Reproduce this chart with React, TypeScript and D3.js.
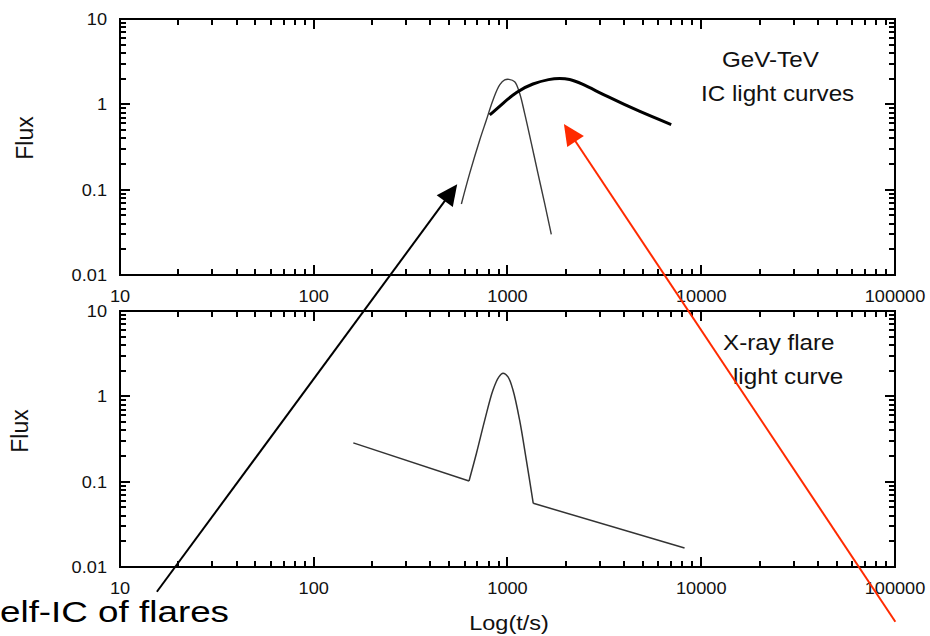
import * as d3 from "d3";
import React from "react";

// --- data (t in s, flux arbitrary) ---
const icFlareT = [578, 638, 719, 778, 841, 911, 967, 1018, 1089, 1155, 1226, 1328, 1436, 1555, 1683];
const icFlareF = [0.068, 0.155, 0.382, 0.655, 1.12, 1.69, 1.93, 1.96, 1.84, 1.35, 0.785, 0.349, 0.155, 0.069, 0.03];

const icAfterT = [809, 948, 1112, 1352, 1651, 1858, 2094, 2355, 3236, 4808, 6998];
const icAfterF = [0.75, 1.03, 1.41, 1.76, 1.98, 2.02, 1.98, 1.8, 1.25, 0.82, 0.58];

const xrayDecayT = [160, 633];
const xrayDecayF = [0.285, 0.102];
const xrayPeakT = [633, 691, 763, 841, 903, 948, 1006, 1068, 1155, 1251, 1358];
const xrayPeakF = [0.102, 0.214, 0.526, 1.18, 1.69, 1.86, 1.69, 1.18, 0.526, 0.179, 0.0558];
const xrayTailT = [1358, 8200];
const xrayTailF = [0.0558, 0.0167];

const xTickLabels = ["10", "100", "1000", "10000", "100000"];
const yTickLabels = ["0.01", "0.1", "1", "10"];

// arrows, in top-panel data coordinates [tail, tip]
const blackArrowT = [15.5, 550];
const blackArrowF = [1.94e-6, 0.116];
const redArrowT = [100400, 1955];
const redArrowF = [8.65e-7, 0.589];

const W = 930;
const H = 636;
const FONT = "'Liberation Sans', Arial, sans-serif";

const left = 120;
const right = 895;
const topPanel = { y0: 19, y1: 275 };
const botPanel = { y0: 311, y1: 567 };

const x = d3.scaleLog().domain([10, 100000]).range([left, right]);
const yTop = d3.scaleLog().domain([0.01, 10]).range([topPanel.y1, topPanel.y0]);
const yBot = d3.scaleLog().domain([0.01, 10]).range([botPanel.y1, botPanel.y0]);

const zip = (t: number[], f: number[]) => t.map((v, i) => [v, f[i]] as [number, number]);

const isMajor = (v: number) => Math.abs(Math.log10(v) - Math.round(Math.log10(v))) < 1e-6;

function Label(p: { x: number; y: number; text: string; size: number; anchor?: string; sx?: number }) {
  return (
    <text
      transform={`translate(${p.x},${p.y}) scale(${p.sx ?? 1.08},1)`}
      textAnchor={p.anchor ?? "middle"}
      fontFamily={FONT}
      fontSize={p.size}
      fill="#111"
    >
      {p.text}
    </text>
  );
}

function Panel(props: { y: d3.ScaleLogarithmic<number, number>; flux: { x: number; y: number } }) {
  const y = props.y;
  const [yb, yt] = y.range();
  const xt = x.ticks();
  const yticks = y.ticks();
  const majX = xt.filter(isMajor);
  const majY = yticks.filter(isMajor);
  return (
    <g>
      {xt.map((v, i) => {
        const len = isMajor(v) ? 10 : 6;
        const px = Math.round(x(v));
        return (
          <g key={"x" + i} stroke="#000" strokeWidth={2}>
            <line x1={px} x2={px} y1={yb} y2={yb - len} />
            <line x1={px} x2={px} y1={yt} y2={yt + len} />
          </g>
        );
      })}
      {yticks.map((v, i) => {
        const len = isMajor(v) ? 10 : 6;
        const py = Math.round(y(v));
        return (
          <g key={"y" + i} stroke="#000" strokeWidth={2}>
            <line x1={left} x2={left + len} y1={py} y2={py} />
            <line x1={right} x2={right - len} y1={py} y2={py} />
          </g>
        );
      })}
      <rect x={left} y={yt} width={right - left} height={yb - yt} fill="none" stroke="#000" strokeWidth={2} />
      {majX.map((v, i) => (
        <Label key={"xl" + i} x={x(v)} y={yb + 27} text={xTickLabels[i]} size={17} sx={1.07} />
      ))}
      {majY.map((v, i) => (
        <Label key={"yl" + i} x={107} y={y(v) + 6} text={yTickLabels[i]} size={17} anchor="end" sx={1.07} />
      ))}
      <text
        transform={`translate(${props.flux.x},${props.flux.y}) rotate(-90) scale(1,1.08)`}
        textAnchor="middle"
        fontFamily={FONT}
        fontSize={23}
        fill="#111"
      >
        Flux
      </text>
    </g>
  );
}

function Arrow(p: { t: number[]; f: number[]; color: string }) {
  const x0 = x(p.t[0]);
  const y0 = yTop(p.f[0]);
  const x1 = x(p.t[1]);
  const y1 = yTop(p.f[1]);
  const dx = x1 - x0;
  const dy = y1 - y0;
  const L = Math.hypot(dx, dy);
  const ux = dx / L;
  const uy = dy / L;
  const hl = 21;
  const hw = 10;
  const bx = x1 - ux * hl;
  const by = y1 - uy * hl;
  const head = [
    [x1, y1],
    [bx - uy * hw, by + ux * hw],
    [bx + uy * hw, by - ux * hw],
  ];
  return (
    <g>
      <line x1={x0} y1={y0} x2={bx + ux * 2} y2={by + uy * 2} stroke={p.color} strokeWidth={2} />
      <polygon points={head.map((d) => d.join(",")).join(" ")} fill={p.color} />
    </g>
  );
}

export default function App() {
  const lineTop = d3
    .line<[number, number]>()
    .x((d) => x(d[0]))
    .y((d) => yTop(d[1]))
    .curve(d3.curveCatmullRom.alpha(0.5));
  const lineTopSmooth = d3
    .line<[number, number]>()
    .x((d) => x(d[0]))
    .y((d) => yTop(d[1]))
    .curve(d3.curveBasis);
  const lineBot = d3
    .line<[number, number]>()
    .x((d) => x(d[0]))
    .y((d) => yBot(d[1]))
    .curve(d3.curveCatmullRom.alpha(0.5));
  const lineBotStraight = d3
    .line<[number, number]>()
    .x((d) => x(d[0]))
    .y((d) => yBot(d[1]));

  return (
    <svg width={W} height={H} style={{ position: "absolute", left: 0, top: 0, background: "#fff" }}>
      <rect width={W} height={H} fill="#fff" />
      <Panel y={yTop} flux={{ x: 33, y: 138 }} />
      <Panel y={yBot} flux={{ x: 28, y: 431 }} />

      <path d={lineTop(zip(icFlareT, icFlareF)) ?? ""} fill="none" stroke="#3a3a3a" strokeWidth={1.4} />
      <path d={lineTopSmooth(zip(icAfterT, icAfterF)) ?? ""} fill="none" stroke="#000" strokeWidth={3} />

      <path d={lineBotStraight(zip(xrayDecayT, xrayDecayF)) ?? ""} fill="none" stroke="#333" strokeWidth={1.5} />
      <path d={lineBot(zip(xrayPeakT, xrayPeakF)) ?? ""} fill="none" stroke="#333" strokeWidth={1.5} />
      <path d={lineBotStraight(zip(xrayTailT, xrayTailF)) ?? ""} fill="none" stroke="#333" strokeWidth={1.5} />

      <Label x={722} y={67} text="GeV-TeV" size={22} anchor="start" sx={1.1} />
      <Label x={701} y={101} text="IC light curves" size={22} anchor="start" sx={1.1} />
      <Label x={723} y={350} text="X-ray flare" size={22} anchor="start" sx={1.1} />
      <Label x={733} y={384} text="light curve" size={22} anchor="start" sx={1.1} />

      <Label x={509} y={630} text="Log(t/s)" size={21} sx={1.12} />

      <Arrow t={blackArrowT} f={blackArrowF} color="#000" />
      <Arrow t={redArrowT} f={redArrowF} color="#ff2a00" />

      <text x={0} y={622} fontFamily={FONT} fontSize={29} fill="#000" textLength={229} lengthAdjust="spacingAndGlyphs">
        elf-IC of flares
      </text>
    </svg>
  );
}
